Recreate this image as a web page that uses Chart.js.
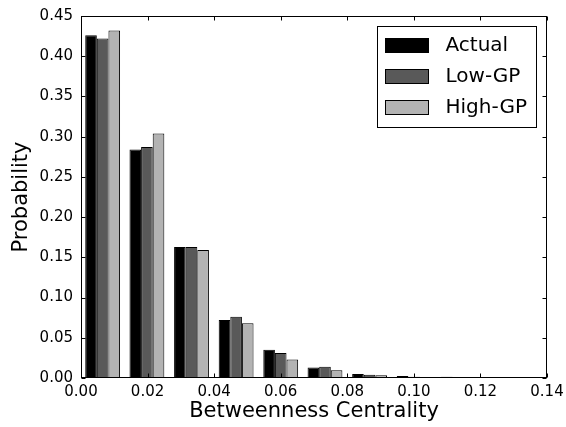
<!DOCTYPE html>
<html>
<head>
<meta charset="utf-8">
<script src="https://cdn.jsdelivr.net/npm/chart.js@4"></script>
<style>
  html, body { margin: 0; padding: 0; background: #fff; }
</style>
</head>
<body>
<canvas id="myChart" width="566" height="427"></canvas>
<script>
// histogram bin centres (betweenness centrality) and probabilities
const binCenters = [0.0065, 0.0198, 0.0332, 0.0466, 0.0600, 0.0733, 0.0867, 0.1001, 0.1134];
const actual = [0.426, 0.284, 0.163, 0.072, 0.035, 0.013, 0.005, 0.0025, 0.0016];
const lowGP = [0.422, 0.287, 0.163, 0.076, 0.031, 0.014, 0.004, 0.0017, 0.0004];
const highGP = [0.432, 0.304, 0.159, 0.068, 0.023, 0.0095, 0.0033, 0.0012, 0.0002];
const seriesNames = ['Actual', 'Low-GP', 'High-GP'];
const seriesColors = ['#000000', '#595959', '#b3b3b3'];
const xTickStep = 0.02;
const yTickStep = 0.05;

const FONT = '"DejaVu Sans", sans-serif';

function toPoints(values) {
  return values.map((v, i) => ({ x: binCenters[i], y: v }));
}

// matplotlib-like frame with inward ticks on all four sides
const framePlugin = {
  id: 'frame',
  afterDatasetsDraw(chart) {
    const ctx = chart.ctx;
    const a = chart.chartArea;
    const l = Math.round(a.left) + 0.5, r = Math.round(a.right) - 0.5;
    const t = Math.round(a.top) + 0.5, b = Math.round(a.bottom) - 0.5;
    ctx.save();
    ctx.strokeStyle = '#000';
    ctx.lineWidth = 1;
    ctx.strokeRect(l, t, r - l, b - t);
    const len = 4;
    ctx.beginPath();
    chart.scales.x.ticks.forEach((tk) => {
      const px = Math.round(chart.scales.x.getPixelForValue(tk.value)) + 0.5;
      ctx.moveTo(px, b); ctx.lineTo(px, b - len);
      ctx.moveTo(px, t); ctx.lineTo(px, t + len);
    });
    chart.scales.y.ticks.forEach((tk) => {
      const py = Math.round(chart.scales.y.getPixelForValue(tk.value)) + 0.5;
      ctx.moveTo(l, py); ctx.lineTo(l + len, py);
      ctx.moveTo(r, py); ctx.lineTo(r - len, py);
    });
    ctx.stroke();
    ctx.restore();
  }
};

// boxed legend in the upper right of the plot
const boxLegendPlugin = {
  id: 'boxLegend',
  afterDraw(chart) {
    const ctx = chart.ctx;
    const a = chart.chartArea;
    const boxW = 159, boxH = 101;
    const left = Math.round(a.right - 11 - boxW) + 0.5;
    const top = Math.round(a.top + 10) + 0.5;
    ctx.save();
    ctx.fillStyle = '#fff';
    ctx.fillRect(left, top, boxW, boxH);
    ctx.strokeStyle = '#000';
    ctx.lineWidth = 1;
    ctx.strokeRect(left, top, boxW, boxH);
    ctx.font = '20px ' + FONT;
    ctx.textBaseline = 'middle';
    ctx.textAlign = 'left';
    chart.data.datasets.forEach((ds, i) => {
      const cy = top + 19 + i * 31;
      ctx.fillStyle = ds.backgroundColor;
      ctx.fillRect(left + 8, cy - 7, 43, 14);
      ctx.strokeStyle = '#000';
      ctx.strokeRect(left + 8, cy - 7, 43, 14);
      ctx.fillStyle = '#000';
      ctx.fillText(ds.label, left + 68, cy);
    });
    ctx.restore();
  }
};

const ctx = document.getElementById('myChart').getContext('2d');
const myChart = new Chart(ctx, {
  type: 'bar',
  data: {
    datasets: [actual, lowGP, highGP].map((vals, i) => ({
      label: seriesNames[i],
      data: toPoints(vals),
      backgroundColor: seriesColors[i],
      borderColor: '#000',
      borderWidth: 1,
      borderSkipped: false,
      categoryPercentage: 0.787,
      barPercentage: 1.0
    }))
  },
  options: {
    responsive: false,
    animation: false,
    layout: { padding: { top: 16, right: 19, left: 0, bottom: 0 } },
    plugins: {
      legend: { display: false },
      tooltip: { enabled: false }
    },
    scales: {
      x: {
        type: 'linear',
        offset: false,
        min: 0,
        max: 0.14,
        grid: { display: false, drawTicks: false, tickLength: 0 },
        border: { display: false },
        ticks: {
          stepSize: xTickStep,
          autoSkip: false,
          maxRotation: 0,
          padding: 5,
          color: '#000',
          font: { family: FONT, size: 15 },
          callback: (v) => v.toFixed(2)
        },
        title: {
          display: true,
          text: 'Betweenness Centrality',
          color: '#000',
          font: { family: FONT, size: 21 },
          padding: { top: 0, bottom: 3 }
        },
        afterFit(scale) {
          scale.height = 49;
          scale.paddingLeft = 0;
          scale.paddingRight = 0;
        }
      },
      y: {
        min: 0,
        max: 0.45,
        grid: { display: false, drawTicks: false, tickLength: 0 },
        border: { display: false },
        ticks: {
          stepSize: yTickStep,
          autoSkip: false,
          padding: 8,
          color: '#000',
          font: { family: FONT, size: 15 },
          callback: (v) => v.toFixed(2)
        },
        title: {
          display: true,
          text: 'Probability',
          color: '#000',
          font: { family: FONT, size: 21 },
          padding: { top: 9, bottom: 0 }
        },
        afterFit(scale) {
          scale.width = 81;
          scale.paddingTop = 0;
          scale.paddingBottom = 0;
        }
      }
    }
  },
  plugins: [framePlugin, boxLegendPlugin]
});
</script>
</body>
</html>
